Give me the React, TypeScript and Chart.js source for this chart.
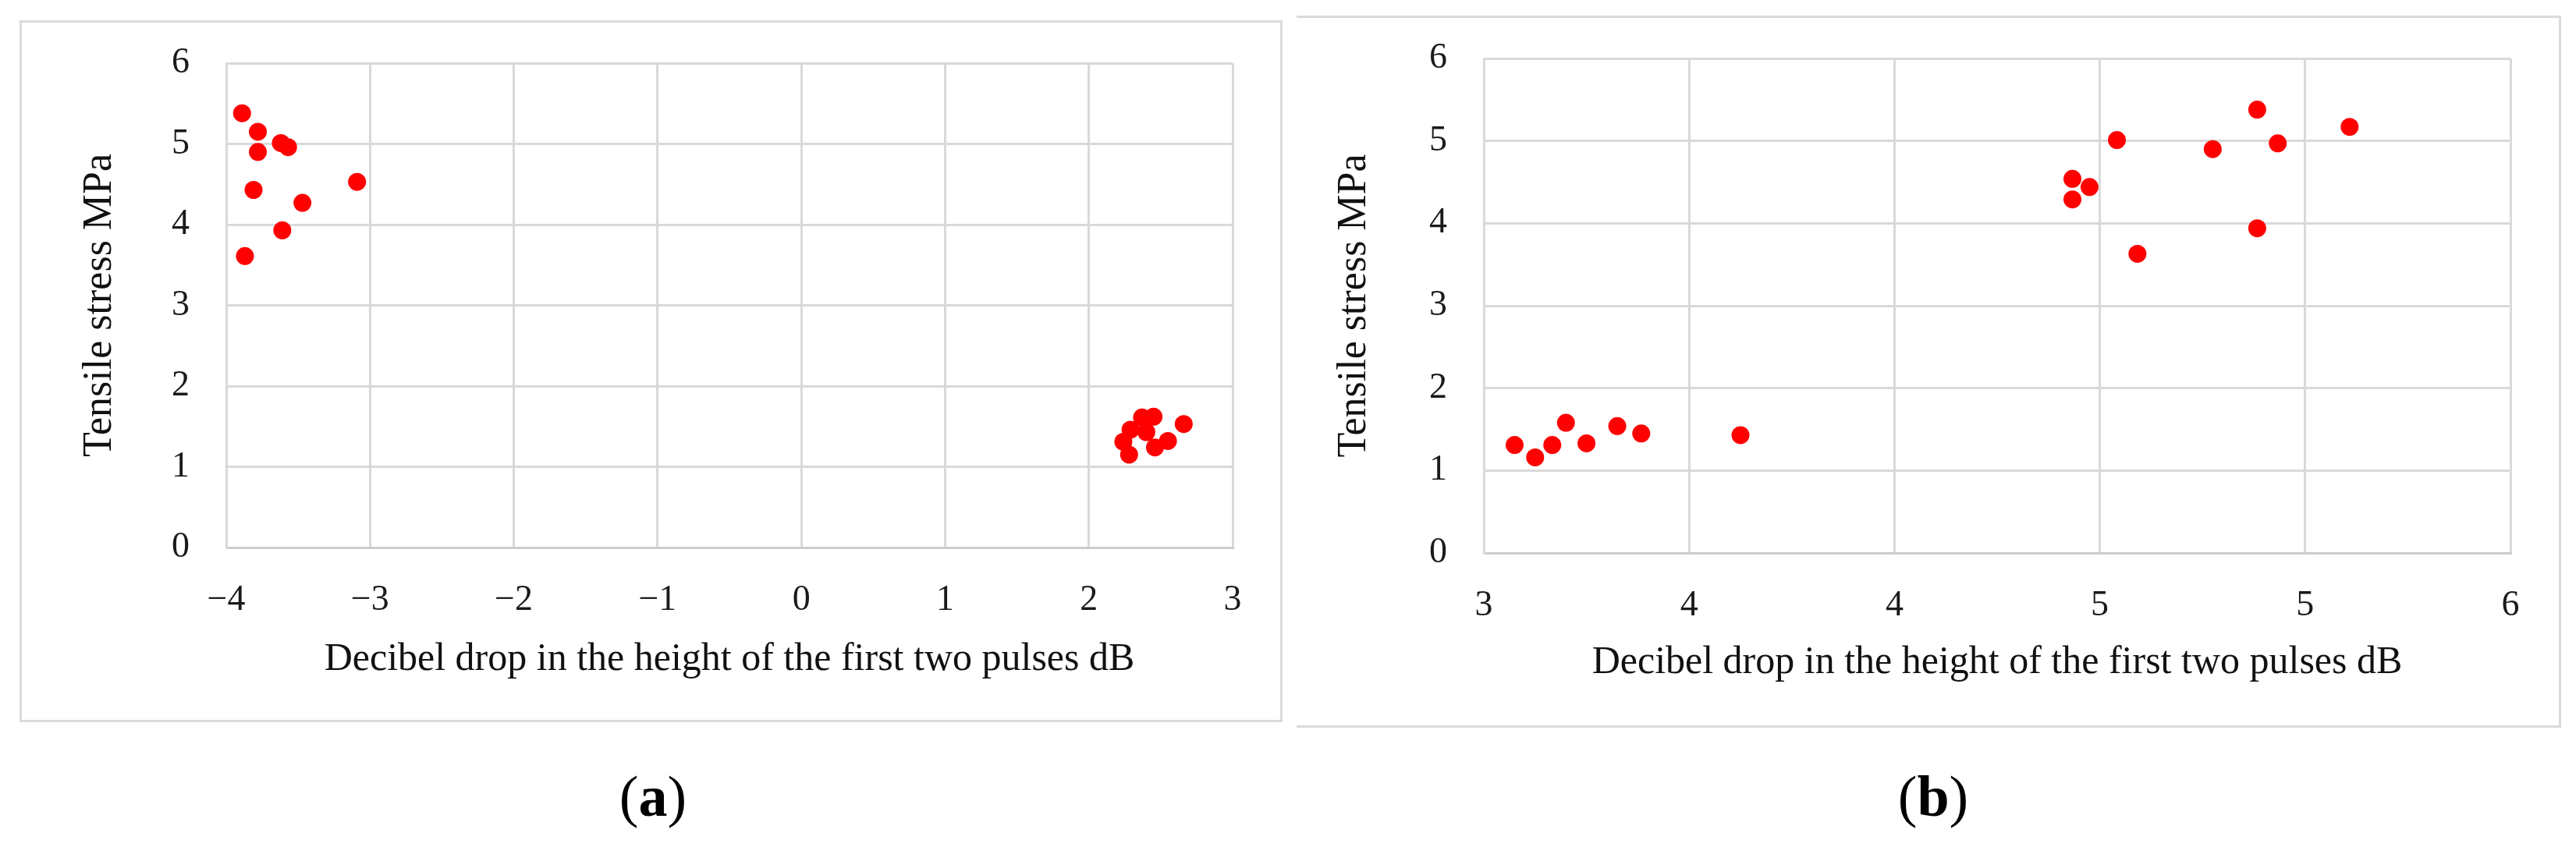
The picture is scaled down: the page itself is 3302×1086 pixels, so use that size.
import React, { useEffect, useRef } from 'react';
import { Chart, registerables } from 'chart.js';

Chart.register(...registerables);

// ---- data ----
const yTickValues = [0, 1, 2, 3, 4, 5, 6];
const yTickLabels = ['0', '1', '2', '3', '4', '5', '6'];

const xTickValuesA = [-4, -3, -2, -1, 0, 1, 2, 3];
const xTickLabelsA = ['−4', '−3', '−2', '−1', '0', '1', '2', '3'];

const xTickValuesB = [3, 3.6, 4.2, 4.8, 5.4, 6];
const xTickLabelsB = ['3', '4', '4', '5', '5', '6'];

const dropA = [-3.89, -3.78, -3.62, -3.57, -3.78, -3.09, -3.81, -3.47, -3.61, -3.87, 2.66, 2.28, 2.24, 2.29, 2.37, 2.45, 2.4, 2.46, 2.55];
const stressA = [5.38, 5.15, 5.01, 4.96, 4.9, 4.53, 4.43, 4.27, 3.93, 3.61, 1.53, 1.15, 1.31, 1.46, 1.61, 1.62, 1.43, 1.24, 1.32];

const dropB = [5.26, 5.53, 4.85, 5.13, 5.32, 4.72, 4.77, 4.72, 5.26, 4.91, 3.09, 3.15, 3.2, 3.24, 3.3, 3.39, 3.46, 3.75];
const stressB = [5.38, 5.17, 5.01, 4.9, 4.97, 4.54, 4.44, 4.29, 3.94, 3.63, 1.31, 1.16, 1.31, 1.58, 1.33, 1.54, 1.45, 1.43];

const xTitle = 'Decibel drop in the height of the first two pulses dB';
const yTitle = 'Tensile stress MPa';

const FONT = "'Liberation Serif', 'Times New Roman', serif";

type PanelProps = {
  left: number;
  top: number;
  width: number;
  height: number;
  xs: number[];
  ys: number[];
  xMin: number;
  xMax: number;
  xTickValues: number[];
  xTickLabels: string[];
  padTop: number;
  padRight: number;
  yAxisWidth: number;
  xAxisHeight: number;
  yTitlePad: number;
  xTitlePad: number;
};

function Panel(p: PanelProps) {
  const ref = useRef<HTMLCanvasElement>(null);
  useEffect(() => {
    if (!ref.current) return;
    const chart = new Chart(ref.current, {
      type: 'scatter',
      data: {
        datasets: [
          {
            data: p.xs.map((x, i) => ({ x, y: p.ys[i] })),
            backgroundColor: '#ff0000',
            borderColor: '#ff0000',
            borderWidth: 0,
            pointRadius: 11.5,
            pointHoverRadius: 11.5,
            pointStyle: 'circle',
          },
        ],
      },
      options: {
        animation: false,
        responsive: false,
        devicePixelRatio: 1,
        events: [],
        layout: { padding: { top: p.padTop, right: p.padRight, bottom: 0, left: 0 } },
        plugins: { legend: { display: false }, tooltip: { enabled: false } },
        scales: {
          x: {
            type: 'linear',
            min: p.xMin,
            max: p.xMax,
            afterBuildTicks: (s: any) => {
              s.ticks = p.xTickValues.map((v) => ({ value: v }));
            },
            afterFit: (s: any) => {
              s.height = p.xAxisHeight;
            },
            ticks: {
              callback: (_v: any, i: number) => p.xTickLabels[i],
              padding: 40,
              maxRotation: 0,
              autoSkip: false,
              color: '#1a1a1a',
              font: { family: FONT, size: 46 },
            },
            grid: { color: '#d9d9d9', lineWidth: 3, drawTicks: false },
            border: { color: '#cccccc', width: 3 },
            title: {
              display: true,
              text: xTitle,
              color: '#111111',
              font: { family: FONT, size: 50 },
              padding: { top: 0, bottom: p.xTitlePad },
            },
          },
          y: {
            type: 'linear',
            min: 0,
            max: 6,
            afterBuildTicks: (s: any) => {
              s.ticks = yTickValues.map((v) => ({ value: v }));
            },
            afterFit: (s: any) => {
              s.width = p.yAxisWidth;
            },
            ticks: {
              callback: (_v: any, i: number) => yTickLabels[i],
              padding: 47,
              color: '#1a1a1a',
              font: { family: FONT, size: 46 },
            },
            grid: { color: '#d9d9d9', lineWidth: 3, drawTicks: false },
            border: { color: '#d9d9d9', width: 3 },
            title: {
              display: true,
              text: yTitle,
              color: '#111111',
              font: { family: FONT, size: 52 },
              padding: { top: p.yTitlePad, bottom: 0 },
            },
          },
        },
      },
    } as any);
    return () => chart.destroy();
  }, []);
  return (
    <canvas
      ref={ref}
      width={p.width}
      height={p.height}
      style={{ position: 'absolute', left: p.left, top: p.top, width: p.width, height: p.height }}
    />
  );
}

function Caption({ x, letter }: { x: number; letter: string }) {
  return (
    <div
      style={{
        position: 'absolute',
        left: x - 100,
        top: 984,
        width: 200,
        textAlign: 'center',
        fontFamily: FONT,
        fontSize: 74,
        lineHeight: '74px',
        color: '#000',
      }}
    >
      (<b>{letter}</b>)
    </div>
  );
}

export default function App() {
  useEffect(() => {
    document.body.style.overflow = 'hidden';
  }, []);
  return (
    <div
      style={{
        position: 'absolute',
        left: 0,
        top: 0,
        width: 3302,
        height: 1086,
        background: '#ffffff',
        overflow: 'hidden',
      }}
    >
      <div
        style={{
          position: 'absolute',
          left: 25,
          top: 26,
          width: 1619,
          height: 900,
          border: '3px solid #dadada',
          boxSizing: 'border-box',
        }}
      />
      <div
        style={{
          position: 'absolute',
          left: 1662,
          top: 20,
          width: 1621,
          height: 913,
          borderTop: '3px solid #dadada',
          borderRight: '3px solid #dadada',
          borderBottom: '3px solid #dadada',
          boxSizing: 'border-box',
        }}
      />
      <Panel
        left={0}
        top={0}
        width={1650}
        height={960}
        xs={dropA}
        ys={stressA}
        xMin={-4}
        xMax={3}
        xTickValues={xTickValuesA}
        xTickLabels={xTickLabelsA}
        padTop={81}
        padRight={70}
        yAxisWidth={290}
        xAxisHeight={258}
        yTitlePad={97}
        xTitlePad={84}
      />
      <Panel
        left={1660}
        top={0}
        width={1640}
        height={960}
        xs={dropB}
        ys={stressB}
        xMin={3}
        xMax={6}
        xTickValues={xTickValuesB}
        xTickLabels={xTickLabelsB}
        padTop={75}
        padRight={82}
        yAxisWidth={242}
        xAxisHeight={251}
        yTitlePad={45}
        xTitlePad={80}
      />
      <Caption x={837} letter="a" />
      <Caption x={2478} letter="b" />
    </div>
  );
}
